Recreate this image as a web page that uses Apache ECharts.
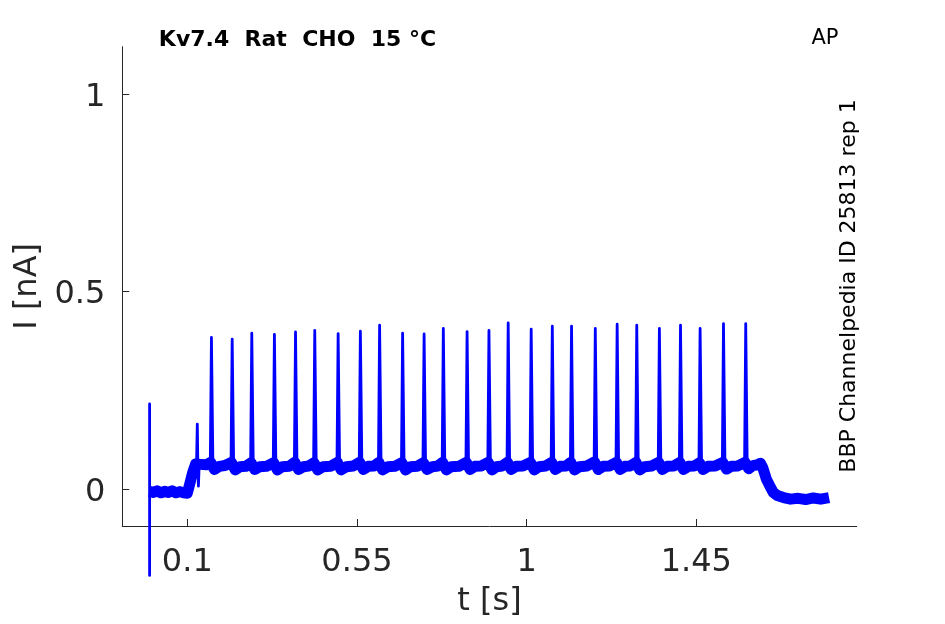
<!DOCTYPE html>
<html>
<head>
<meta charset="utf-8">
<script src="https://cdn.jsdelivr.net/npm/echarts@6/dist/echarts.min.js"></script>
<style>
  html, body { margin: 0; padding: 0; background: #ffffff; }
  #chart { width: 945px; height: 624px; }
</style>
</head>
<body>
<div id="chart"></div>
<script>
// ---- Data ----
const xTickValues = [0.1, 0.55, 1, 1.45];
const yTickValues = [0, 0.5, 1];

// Action-potential-like spikes: time [s] and peak current [nA]
const spikeTimes = [0.164, 0.219, 0.271, 0.331, 0.387, 0.438, 0.500, 0.559, 0.610, 0.671,
                    0.728, 0.779, 0.842, 0.900, 0.951, 1.012, 1.068, 1.119, 1.182, 1.240,
                    1.292, 1.352, 1.408, 1.460, 1.522, 1.581];
const spikePeaks = [0.384, 0.380, 0.395, 0.392, 0.398, 0.402, 0.394, 0.400, 0.415, 0.395,
                    0.393, 0.407, 0.399, 0.402, 0.421, 0.405, 0.413, 0.413, 0.407, 0.418,
                    0.415, 0.407, 0.415, 0.407, 0.419, 0.419];
const spikeFootPre = 0.068;
const spikeFootPost = 0.055;

// Stimulus artifact at t = 0 and the small early spike
const artifactTimes = [0.0, 0.0];
const artifactValues = [0.216, -0.218];
const earlyTimes = [0.1245, 0.1265, 0.1280, 0.1295, 0.1315];
const earlyValues = [0.064, 0.165, 0.060, 0.008, 0.062];

// Noisy baseline (centre of the band)
const bandTimes = [
  0.000, 0.010, 0.020, 0.030, 0.040, 0.050, 0.060, 0.070, 0.080, 0.090, 0.100,
  0.106, 0.115, 0.122, 0.135, 0.150, 0.162, 0.172, 0.185, 0.200, 0.217, 0.227, 0.240, 0.255,
  0.269, 0.279, 0.292, 0.310, 0.329, 0.339, 0.352, 0.370, 0.385, 0.395, 0.408, 0.422, 0.436,
  0.446, 0.460, 0.480, 0.498, 0.508, 0.522, 0.540, 0.557, 0.567, 0.580, 0.595, 0.608, 0.618,
  0.632, 0.650, 0.669, 0.679, 0.692, 0.710, 0.726, 0.736, 0.750, 0.765, 0.777, 0.787, 0.800,
  0.820, 0.840, 0.850, 0.863, 0.880, 0.898, 0.908, 0.920, 0.935, 0.949, 0.959, 0.972, 0.990,
  1.010, 1.020, 1.033, 1.050, 1.066, 1.076, 1.089, 1.105, 1.117, 1.127, 1.140, 1.160, 1.180,
  1.190, 1.203, 1.220, 1.238, 1.248, 1.261, 1.275, 1.290, 1.300, 1.313, 1.332, 1.350, 1.360,
  1.373, 1.390, 1.406, 1.416, 1.429, 1.445, 1.458, 1.468, 1.481, 1.500, 1.520, 1.530, 1.543,
  1.560, 1.579, 1.589, 1.600, 1.612, 1.620, 1.626, 1.636, 1.645, 1.654, 1.665, 1.681, 1.700,
  1.720, 1.740, 1.760, 1.780, 1.802];
const bandValues = [
  -0.005, -0.008, -0.004, -0.009, -0.005, -0.008, -0.004, -0.009, -0.006, -0.009, -0.010,
  0.012, 0.045, 0.064, 0.063, 0.062, 0.068, 0.050, 0.058, 0.060, 0.068, 0.049, 0.057, 0.058,
  0.067, 0.050, 0.057, 0.058, 0.067, 0.049, 0.057, 0.058, 0.068, 0.050, 0.057, 0.059, 0.067,
  0.049, 0.057, 0.058, 0.068, 0.049, 0.057, 0.059, 0.068, 0.050, 0.058, 0.059, 0.068, 0.049,
  0.057, 0.058, 0.067, 0.049, 0.057, 0.058, 0.067, 0.050, 0.057, 0.059, 0.068, 0.049, 0.057,
  0.058, 0.068, 0.050, 0.058, 0.059, 0.068, 0.049, 0.057, 0.059, 0.068, 0.050, 0.058, 0.059,
  0.068, 0.049, 0.057, 0.059, 0.068, 0.050, 0.058, 0.059, 0.068, 0.049, 0.057, 0.059, 0.069,
  0.050, 0.058, 0.059, 0.068, 0.050, 0.058, 0.059, 0.068, 0.049, 0.057, 0.059, 0.068, 0.050,
  0.058, 0.059, 0.068, 0.050, 0.058, 0.059, 0.067, 0.050, 0.058, 0.059, 0.068, 0.051, 0.058,
  0.059, 0.068, 0.052, 0.060, 0.062, 0.066, 0.055, 0.025, 0.008, -0.008, -0.016, -0.021, -0.025,
  -0.023, -0.026, -0.022, -0.025, -0.021];

// ---- Build series data ----
const bandData = bandTimes.map((t, i) => [t, bandValues[i]]);
const traceData = [];
artifactTimes.forEach((t, i) => traceData.push([t, artifactValues[i]]));
traceData.push([0.0, null]);
earlyTimes.forEach((t, i) => traceData.push([t, earlyValues[i]]));
traceData.push([earlyTimes[earlyTimes.length - 1], null]);
spikeTimes.forEach((t, i) => {
  traceData.push([t - 0.003, spikeFootPre]);
  traceData.push([t, spikePeaks[i]]);
  traceData.push([t + 0.004, spikeFootPost]);
  traceData.push([t + 0.004, null]);
});

const axisColor = '#262626';
const fontFam = '"DejaVu Sans", sans-serif';
const chart = echarts.init(document.getElementById('chart'), null, { renderer: 'canvas' });

chart.setOption({
  backgroundColor: '#ffffff',
  animation: false,
  grid: { left: 122.3, right: 88.3, top: 46.7, bottom: 98, containLabel: false, outerBoundsMode: 'none' },
  xAxis: {
    type: 'value',
    min: -0.0724,
    max: 1.8753,
    name: 't [s]',
    nameLocation: 'middle',
    nameGap: 60,
    nameTextStyle: { fontSize: 32, color: axisColor, fontFamily: fontFam },
    axisLine: { show: true, onZero: false, lineStyle: { color: axisColor, width: 1 } },
    axisTick: { show: true, inside: true, length: 7, customValues: xTickValues, lineStyle: { color: axisColor } },
    axisLabel: { show: true, customValues: xTickValues, margin: 21, fontSize: 32, color: axisColor, fontFamily: fontFam },
    splitLine: { show: false }
  },
  yAxis: {
    type: 'value',
    min: -0.093,
    max: 1.12,
    name: 'I [nA]',
    nameLocation: 'middle',
    nameGap: 78,
    nameRotate: 90,
    nameTextStyle: { fontSize: 32, color: axisColor, fontFamily: fontFam },
    axisLine: { show: true, onZero: false, lineStyle: { color: axisColor, width: 1 } },
    axisTick: { show: true, inside: true, length: 7, customValues: yTickValues, lineStyle: { color: axisColor } },
    axisLabel: {
      show: true, customValues: yTickValues, margin: 17,
      formatter: (v) => '{a|' + v + '}',
      rich: { a: { fontSize: 32, color: axisColor, fontFamily: fontFam, padding: [7, 0, 0, 0] } }
    },
    splitLine: { show: false }
  },
  graphic: [
    { type: 'text', x: 297.5, y: 40, style: { text: 'Kv7.4  Rat  CHO  15 °C', font: 'bold 22px "DejaVu Sans"', fill: '#000000', textAlign: 'center', textVerticalAlign: 'middle' } },
    { type: 'text', x: 825, y: 39, style: { text: 'AP', font: '21px "DejaVu Sans"', fill: '#000000', textAlign: 'center', textVerticalAlign: 'middle' } },
    { type: 'text', x: 849, y: 286, rotation: Math.PI / 2, style: { text: 'BBP Channelpedia ID 25813 rep 1', font: '22px "DejaVu Sans"', fill: '#000000', textAlign: 'center', textVerticalAlign: 'middle' } }
  ],
  series: [
    {
      name: 'band', type: 'line', data: bandData, showSymbol: false, symbol: 'none',
      lineStyle: { color: '#0000ff', width: 11, join: 'round', cap: 'butt' },
      z: 2, silent: true
    },
    {
      name: 'trace', type: 'line', data: traceData, showSymbol: false, symbol: 'none',
      connectNulls: false, clip: false,
      lineStyle: { color: '#0000ff', width: 2.8, join: 'round', cap: 'round' },
      z: 3, silent: true
    }
  ]
});
</script>
</body>
</html>
